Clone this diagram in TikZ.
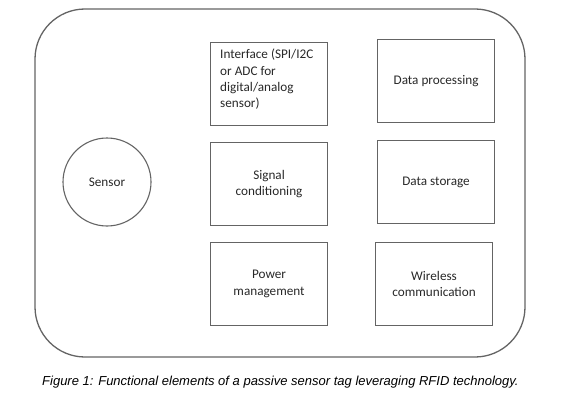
\documentclass[tikz,border=0pt]{standalone}
\usepackage{fontspec}
\setmainfont{Carlito}
\newfontfamily\capfont{Liberation Sans}
\definecolor{edgegray}{RGB}{100,100,100}
\definecolor{textgray}{RGB}{40,40,40}
\begin{document}
\begin{tikzpicture}[x=1pt,y=-1pt,
  blockbox/.style={draw=edgegray, line width=1.1pt, minimum width=117pt, minimum height=83pt, inner sep=0pt, font=\fontsize{13.2}{16.5}\selectfont, text=textgray, align=center},
  sensorcirc/.style={draw=edgegray, line width=1.1pt, circle, minimum size=88pt, inner sep=0pt, font=\fontsize{13.2}{16.5}\selectfont, text=textgray}]
\useasboundingbox (0,0) rectangle (561,401);
\draw[edgegray, line width=1.3pt, rounded corners=50pt] (35,9) rectangle (525,357);
\node[sensorcirc] (sensor) at (107,182) {Sensor};
\node[blockbox, anchor=north west] (iface) at (210,42) {};
\node[anchor=north west, inner sep=0pt, align=left, text=textgray, font=\fontsize{13.2}{16.2}\selectfont] (ifacetxt) at (220,49) {Interface (SPI/I2C\\or ADC for\\digital/analog\\sensor)};
\node[blockbox, anchor=north west] (signal) at (210,142) {Signal\\conditioning};
\node[blockbox, anchor=north west] (power) at (210,242) {Power\\management};
\node[blockbox, anchor=north west] (proc) at (377,39) {Data processing};
\node[blockbox, anchor=north west] (store) at (377,140) {Data storage};
\node[blockbox, anchor=north west] (wireless) at (375,242) {Wireless\\communication};
\node[anchor=west, inner sep=0pt, font=\capfont\itshape\fontsize{13}{15}\selectfont, text=black] (caption) at (42,382) {Figure 1: Functional elements of a passive sensor tag leveraging RFID technology.};
\end{tikzpicture}
\end{document}
